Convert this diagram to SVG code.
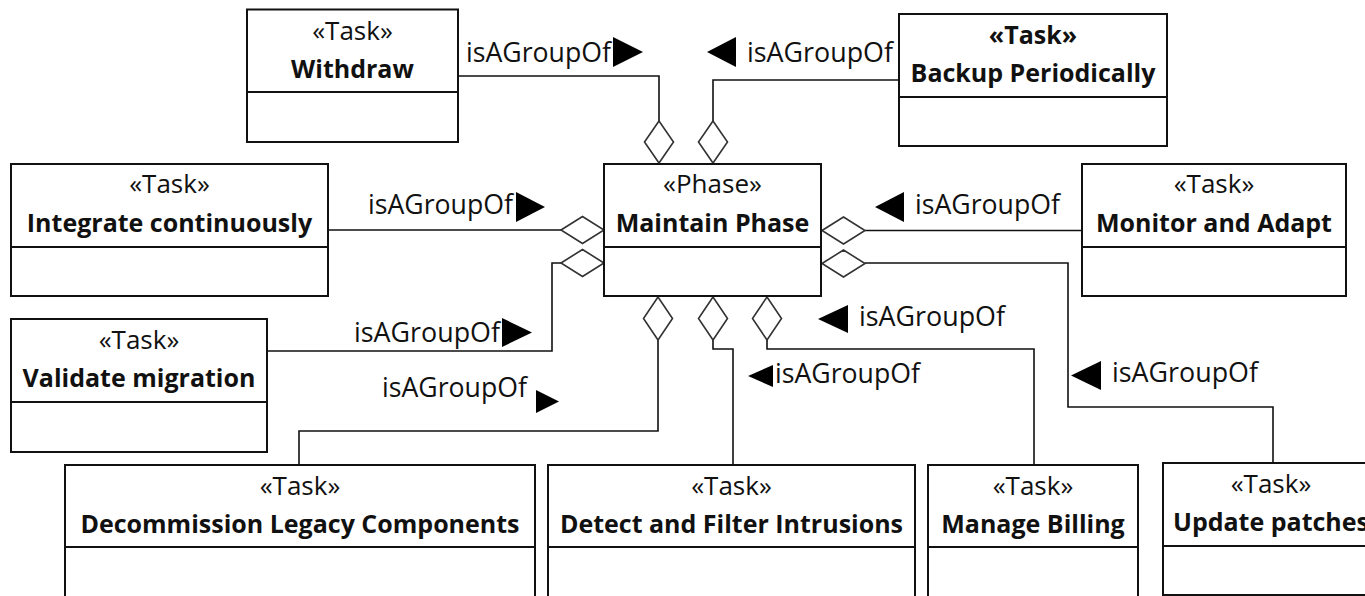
<svg xmlns="http://www.w3.org/2000/svg" width="1365" height="596" viewBox="0 0 1365 596">
<style>
.box{fill:#fff;stroke:#111;stroke-width:2}
.div{stroke:#111;stroke-width:2}
.st{font-family:"Open Sans","Noto Sans",sans-serif;font-size:26px;fill:#111;text-anchor:middle}
.nm{font-family:"Open Sans","Noto Sans",sans-serif;font-size:25px;font-weight:bold;fill:#111;text-anchor:middle}
.lbl{font-family:"Open Sans","Noto Sans",sans-serif;font-size:26.5px;fill:#111}
.ln{fill:none;stroke:#111;stroke-width:1.6}
.dia{fill:#fff;stroke:#333;stroke-width:1.6}
.tri{fill:#000}
</style>
<rect width="1365" height="596" fill="#fff"/>
<g id="connectors">
<path class="ln" d="M458,76 H659 V121"/>
<path class="ln" d="M899,80 H713 V121"/>
<path class="ln" d="M328,230 H561"/>
<path class="ln" d="M267,351 H552 V263 H561"/>
<path class="ln" d="M1082,230.5 H865"/>
<path class="ln" d="M865,263 H1068 V407 H1273 V463"/>
<path class="ln" d="M658,340 V431 H299 V465"/>
<path class="ln" d="M713,340 V349 H733 V465"/>
<path class="ln" d="M767,340 V349 H1034 V465"/>
<polygon class="dia" points="659,121 673.5,142 659,163 644.5,142"/>
<polygon class="dia" points="713,121 727.5,142 713,163 698.5,142"/>
<polygon class="dia" points="561,230 582.5,216.5 604,230 582.5,243.5"/>
<polygon class="dia" points="561,263 582.5,249.5 604,263 582.5,276.5"/>
<polygon class="dia" points="822,230.5 843.5,217 865,230.5 843.5,244"/>
<polygon class="dia" points="822,263.5 843.5,250 865,263.5 843.5,277"/>
<polygon class="dia" points="658,297 672.5,318.5 658,340 643.5,318.5"/>
<polygon class="dia" points="713,297 727.5,318.5 713,340 698.5,318.5"/>
<polygon class="dia" points="767,297 781.5,318.5 767,340 752.5,318.5"/>
<text class="lbl" x="466" y="62" textLength="145" lengthAdjust="spacingAndGlyphs">isAGroupOf</text>
<polygon class="tri" points="613,37 613,67 643,52"/>
<polygon class="tri" points="736,37 736,67 707,52"/>
<text class="lbl" x="747" y="62" textLength="146" lengthAdjust="spacingAndGlyphs">isAGroupOf</text>
<text class="lbl" x="368" y="214" textLength="145" lengthAdjust="spacingAndGlyphs">isAGroupOf</text>
<polygon class="tri" points="516,192 516,222 545,207"/>
<polygon class="tri" points="904,192 904,222 875,207"/>
<text class="lbl" x="915" y="214" textLength="145" lengthAdjust="spacingAndGlyphs">isAGroupOf</text>
<text class="lbl" x="354" y="342" textLength="146" lengthAdjust="spacingAndGlyphs">isAGroupOf</text>
<polygon class="tri" points="502,318 502,347 532,332.5"/>
<text class="lbl" x="382" y="397" textLength="145" lengthAdjust="spacingAndGlyphs">isAGroupOf</text>
<polygon class="tri" points="536,390 536,413 559,401.5"/>
<polygon class="tri" points="848,305 848,333 818,319"/>
<text class="lbl" x="859" y="326" textLength="146" lengthAdjust="spacingAndGlyphs">isAGroupOf</text>
<polygon class="tri" points="773,365 773,387 748,376"/>
<text class="lbl" x="775" y="383" textLength="145" lengthAdjust="spacingAndGlyphs">isAGroupOf</text>
<polygon class="tri" points="1101,361 1101,390 1071,375.5"/>
<text class="lbl" x="1112" y="382" textLength="146" lengthAdjust="spacingAndGlyphs">isAGroupOf</text>
</g>
<g id="withdraw">
<rect class="box" x="247" y="9.5" width="211" height="132.5"/>
<line class="div" x1="247" y1="92" x2="458" y2="92"/>
<text class="st" x="352.5" y="40">«Task»</text>
<text class="nm" x="352.5" y="77.5">Withdraw</text>
</g>
<g id="backup">
<rect class="box" x="899" y="14" width="268" height="132"/>
<line class="div" x1="899" y1="97" x2="1167" y2="97"/>
<text class="nm" x="1033" y="44" font-size="26">«Task»</text>
<text class="nm" x="1033" y="82">Backup Periodically</text>
</g>
<g id="integrate">
<rect class="box" x="11" y="164" width="317" height="132"/>
<line class="div" x1="11" y1="247" x2="328" y2="247"/>
<text class="st" x="169.5" y="193">«Task»</text>
<text class="nm" x="169.5" y="232">Integrate continuously</text>
</g>
<g id="maintain">
<rect class="box" x="604" y="164" width="217" height="132"/>
<line class="div" x1="604" y1="247" x2="821" y2="247"/>
<text class="st" x="712.5" y="193">«Phase»</text>
<text class="nm" x="712.5" y="232">Maintain Phase</text>
</g>
<g id="monitor">
<rect class="box" x="1082" y="164" width="264" height="132"/>
<line class="div" x1="1082" y1="247" x2="1346" y2="247"/>
<text class="st" x="1214" y="193">«Task»</text>
<text class="nm" x="1214" y="232">Monitor and Adapt</text>
</g>
<g id="validate">
<rect class="box" x="11" y="319" width="256" height="133"/>
<line class="div" x1="11" y1="402" x2="267" y2="402"/>
<text class="st" x="139" y="349">«Task»</text>
<text class="nm" x="139" y="387">Validate migration</text>
</g>
<g id="decommission">
<rect class="box" x="65" y="465" width="470" height="160"/>
<line class="div" x1="65" y1="547" x2="535" y2="547"/>
<text class="st" x="300" y="495">«Task»</text>
<text class="nm" x="300" y="533">Decommission Legacy Components</text>
</g>
<g id="detect">
<rect class="box" x="548" y="465" width="367" height="160"/>
<line class="div" x1="548" y1="547" x2="915" y2="547"/>
<text class="st" x="731.5" y="495">«Task»</text>
<text class="nm" x="731.5" y="533">Detect and Filter Intrusions</text>
</g>
<g id="billing">
<rect class="box" x="928" y="465" width="210" height="160"/>
<line class="div" x1="928" y1="547" x2="1138" y2="547"/>
<text class="st" x="1033" y="495">«Task»</text>
<text class="nm" x="1033" y="533">Manage Billing</text>
</g>
<g id="update">
<rect class="box" x="1163" y="463" width="216" height="132"/>
<line class="div" x1="1163" y1="546" x2="1379" y2="546"/>
<text class="st" x="1271" y="493">«Task»</text>
<text class="nm" x="1271" y="531">Update patches</text>
</g>
</svg>
